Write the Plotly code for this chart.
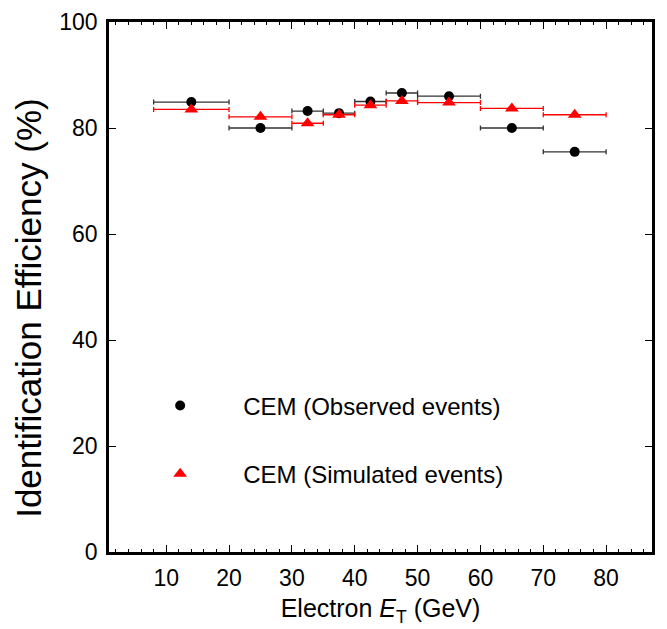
import plotly.graph_objects as go

# bin centres / edges (GeV)
et_centre = [14, 25, 32.5, 37.5, 42.5, 47.5, 55, 65, 75]
et_low = [8, 20, 30, 35, 40, 45, 50, 60, 70]
et_high = [20, 30, 35, 40, 45, 50, 60, 70, 80]

eff_observed = [84.9, 80.0, 83.2, 82.8, 85.0, 86.6, 86.0, 80.0, 75.5]
eff_simulated = [83.5, 82.1, 80.9, 82.5, 84.3, 85.1, 84.8, 83.7, 82.5]

err_plus = [h - c for h, c in zip(et_high, et_centre)]
err_minus = [c - l for c, l in zip(et_centre, et_low)]

FONT = "Liberation Sans, Arial, Helvetica, sans-serif"

fig = go.Figure()
fig.add_trace(
    go.Scatter(
        x=et_centre,
        y=eff_observed,
        mode="markers",
        name="CEM (Observed events)",
        legendgroup="obs",
        marker=dict(symbol="circle", size=10, color="black"),
        error_x=dict(type="data", array=err_plus, arrayminus=err_minus,
                     color="#333333", thickness=1.3, width=2.5),
    )
)
fig.add_trace(
    go.Scatter(
        x=et_centre,
        y=eff_simulated,
        mode="markers",
        name="CEM (Simulated events)",
        legendgroup="sim",
        marker=dict(symbol="triangle-up", size=12, color="#ff0000"),
        error_x=dict(type="data", array=err_plus, arrayminus=err_minus,
                     color="#ff0000", thickness=1.3, width=2.5),
    )
)

axis_common = dict(
    showline=True,
    linecolor="black",
    linewidth=2.5,
    mirror="ticks",
    ticks="inside",
    ticklen=7,
    tickwidth=1.2,
    tickcolor="black",
    showgrid=False,
    zeroline=False,
    automargin=False,
    ticklabelstandoff=4,
    tickfont=dict(family=FONT, size=23, color="black"),
)

fig.update_xaxes(
    range=[0.9, 87.3],
    tickmode="array",
    tickvals=[10, 20, 30, 40, 50, 60, 70, 80],
    minor=dict(ticks="inside", ticklen=3, dtick=2, tick0=0, tickcolor="black", tickwidth=1),
    title=dict(text="Electron <i>E</i><sub>T</sub> (GeV)", font=dict(family=FONT, size=25, color="black"), standoff=10),
    **axis_common,
)
fig.update_yaxes(range=[0, 100], dtick=20, **axis_common)

# y title sits a little below the plot centre in the original, so place it by hand
fig.add_annotation(
    text="Identification Efficiency (%)",
    xref="paper", yref="paper",
    x=-0.148, y=0.46,
    xanchor="center", yanchor="middle",
    textangle=-90,
    showarrow=False,
    font=dict(family=FONT, size=35, color="black"),
)

fig.update_layout(
    width=667,
    height=629,
    margin=dict(l=109, r=15, t=22, b=77),
    plot_bgcolor="white",
    paper_bgcolor="white",
    font=dict(family=FONT, color="black"),
    legend=dict(
        x=0.015,
        y=0.318,
        xanchor="left",
        yanchor="top",
        bgcolor="rgba(0,0,0,0)",
        font=dict(family=FONT, size=24, color="black"),
        itemwidth=116,
        tracegroupgap=34,
    ),
)

# the page body has an 8px default margin; drop it so the figure sits at (0, 0)
fig.write_html(
    "out.html",
    config={"displayModeBar": False},
    post_script="document.body.style.margin='0px';document.body.style.overflow='hidden';",
)
